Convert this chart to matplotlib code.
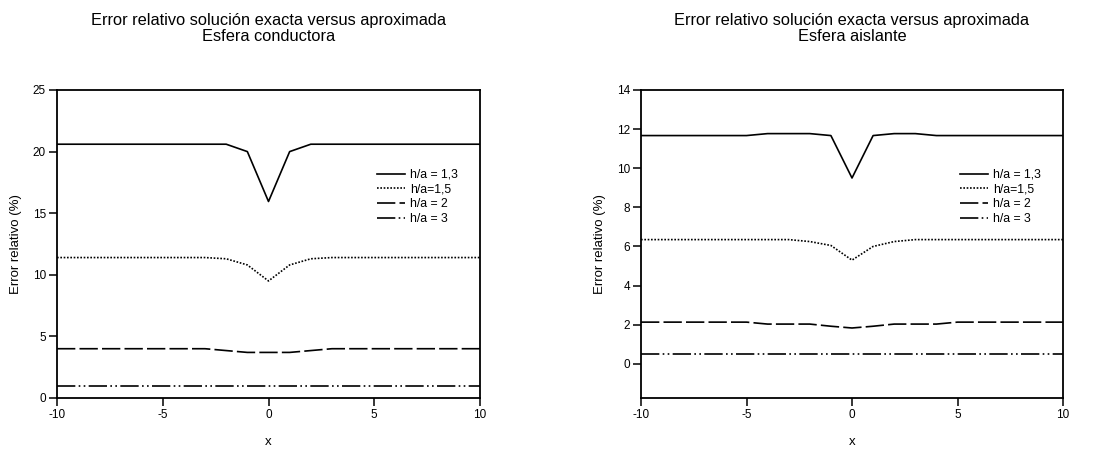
import matplotlib
matplotlib.use('Agg')
import matplotlib.pyplot as plt

plt.rcParams['font.family'] = ['Liberation Sans', 'DejaVu Sans']
plt.rcParams['axes.unicode_minus'] = False

# x positions (common to both panels)
x = list(range(-10, 11))

# Esfera conductora
cond_13 = [20.6] * 8 + [20.6, 20.0, 15.95, 20.0, 20.6] + [20.6] * 8
cond_15 = [11.4] * 7 + [11.4, 11.3, 10.8, 9.5, 10.8, 11.3, 11.4] + [11.4] * 7
cond_2 = [4.0] * 7 + [4.0, 3.85, 3.7, 3.7, 3.7, 3.85, 4.0] + [4.0] * 7
cond_3 = [0.95] * 21

# Esfera aislante
ais_13 = [11.67] * 5 + [11.67, 11.77, 11.77, 11.77, 11.67, 9.5,
                        11.67, 11.77, 11.77, 11.67, 11.67] + [11.67] * 5
ais_15 = [6.35] * 7 + [6.35, 6.25, 6.05, 5.3, 6.0, 6.25, 6.35] + [6.35] * 7
ais_2 = [2.13] * 5 + [2.13, 2.03, 2.03, 2.03, 1.92, 1.83,
                      1.92, 2.03, 2.03, 2.03, 2.13] + [2.13] * 5
ais_3 = [0.5] * 21

labels = ['h/a = 1,3', 'h/a=1,5', 'h/a = 2', 'h/a = 3']
styles = ['-', (0, (1, 1)), (0, (11, 2.5)), (0, (11, 2, 1, 2, 1, 2))]

fig = plt.figure(figsize=(10.93, 4.51), dpi=100)
ax1 = fig.add_axes([57 / 1093, 1 - 398 / 451, 423 / 1093, 308 / 451])
ax2 = fig.add_axes([641 / 1093, 1 - 398 / 451, 422 / 1093, 308 / 451])


def draw_panel(ax, series, ylim, yticks, title):
    for ys, ls, lab in zip(series, styles, labels):
        ax.plot(x, ys, color='black', linestyle=ls, lw=1.2, label=lab)
    ax.set_xlim(-10, 10)
    ax.set_ylim(*ylim)
    ax.set_xticks([-10, -5, 0, 5, 10])
    ax.set_yticks(yticks)
    ax.tick_params(direction='out', length=6, width=1.1, labelsize=8.5,
                   top=False, right=False, pad=2)
    for s in ax.spines.values():
        s.set_linewidth(1.3)
    ax.set_xlabel('x', fontsize=9.5, labelpad=11)
    ax.set_ylabel('Error relativo (%)', fontsize=9.5, labelpad=8)
    ax.set_title(title, fontsize=11.8, pad=35, linespacing=1.1)
    ax.legend(loc='upper left', bbox_to_anchor=(0.745, 0.76), frameon=False,
              fontsize=8.8, handlelength=2.3, handletextpad=0.4,
              labelspacing=0.22, borderaxespad=0)


draw_panel(ax1, [cond_13, cond_15, cond_2, cond_3], (0, 25),
           [0, 5, 10, 15, 20, 25],
           'Error relativo solución exacta versus aproximada\nEsfera conductora')
draw_panel(ax2, [ais_13, ais_15, ais_2, ais_3], (-1.75, 14),
           [0, 2, 4, 6, 8, 10, 12, 14],
           'Error relativo solución exacta versus aproximada\nEsfera aislante')

fig.savefig('out.png', dpi=100)
